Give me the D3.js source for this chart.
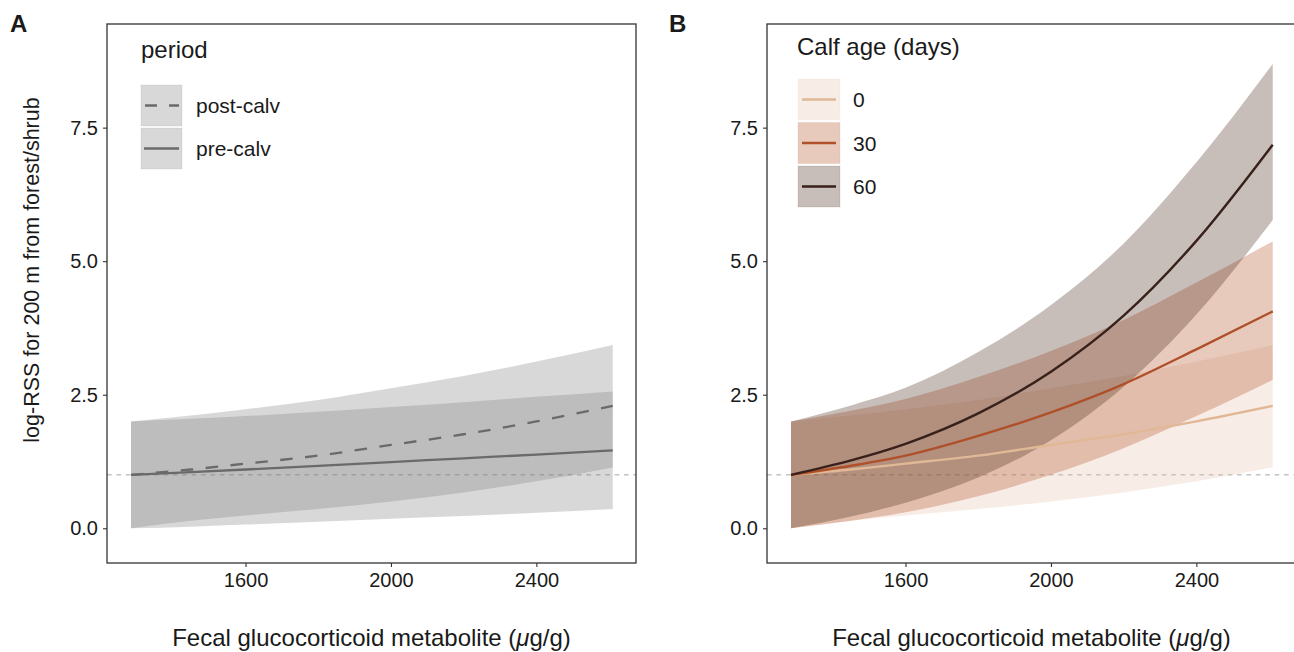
<!DOCTYPE html>
<html>
<head>
<meta charset="utf-8">
<script src="https://cdn.jsdelivr.net/npm/d3@7"></script>
<style>
  body { margin: 0; background: #fff; }
  svg text { font-family: "Liberation Sans", Arial, Helvetica, sans-serif; fill: #1a1a1a; }
</style>
</head>
<body>
<div id="chart"></div>
<script>
var gcX = [1285, 1450, 1600, 1800, 2000, 2200, 2400, 2610];

// panel A: period
var preFit  = [1, 1.05, 1.10, 1.17, 1.24, 1.31, 1.38, 1.46];
var preLo   = [0, 0.03, 0.07, 0.12, 0.18, 0.23, 0.29, 0.36];
var preHi   = [2, 2.05, 2.10, 2.18, 2.27, 2.36, 2.46, 2.56];
var postFit = [1, 1.10, 1.21, 1.36, 1.56, 1.76, 2.00, 2.29];
var postLo  = [0, 0.14, 0.24, 0.36, 0.50, 0.67, 0.88, 1.14];
var postHi  = [2, 2.11, 2.23, 2.40, 2.62, 2.85, 3.12, 3.43];

// panel B: calf age (days)
var age0Fit  = [1, 1.10, 1.21, 1.36, 1.56, 1.76, 2.00, 2.29];
var age0Lo   = [0, 0.14, 0.24, 0.36, 0.50, 0.67, 0.88, 1.14];
var age0Hi   = [2, 2.11, 2.23, 2.40, 2.62, 2.85, 3.12, 3.43];
var age30Fit = [1, 1.17, 1.36, 1.73, 2.17, 2.70, 3.35, 4.06];
var age30Lo  = [0, 0.14, 0.30, 0.60, 1.00, 1.50, 2.10, 2.78];
var age30Hi  = [2, 2.20, 2.42, 2.83, 3.32, 3.90, 4.60, 5.37];
var age60Fit = [1, 1.27, 1.58, 2.15, 2.93, 3.98, 5.38, 7.18];
var age60Lo  = [0, 0.22, 0.48, 0.95, 1.65, 2.65, 4.00, 5.77];
var age60Hi  = [2, 2.30, 2.63, 3.30, 4.18, 5.33, 6.85, 8.69];

var xTicks = [1600, 2000, 2400];
var yTicks = [0, 2.5, 5, 7.5];
var refLine = 1;

var W = 1294, H = 652;
var panelW = 529, panelTop = 24, panelBottom = 563;

var svg = d3.select("#chart").append("svg")
  .attr("width", W).attr("height", H);

function rows(fit, lo, hi) {
  return gcX.map(function(x, i) { return {x: x, fit: fit[i], lo: lo[i], hi: hi[i]}; });
}

var periodSeries = [
  {name: "post-calv", data: rows(postFit, postLo, postHi), dash: "12.5,12.5"},
  {name: "pre-calv",  data: rows(preFit, preLo, preHi), dash: null}
];

var ageSeries = [
  {name: "0",  data: rows(age0Fit, age0Lo, age0Hi),    line: "#e0b896", fill: "#e8c3ac"},
  {name: "30", data: rows(age30Fit, age30Lo, age30Hi), line: "#b0502a", fill: "#b24e23"},
  {name: "60", data: rows(age60Fit, age60Lo, age60Hi), line: "#38211a", fill: "#452616"}
];

function makePanel(left, tag) {
  var x = d3.scaleLinear().domain([1219, 2674]).range([left, left + panelW]);
  var y = d3.scaleLinear().domain([-0.65, 9.44]).range([panelBottom, panelTop]);
  var g = svg.append("g");

  var xa = g.append("g").attr("transform", "translate(0," + panelBottom + ")")
    .call(d3.axisBottom(x).tickValues(xTicks).tickSize(4).tickPadding(6).tickFormat(d3.format("d")));
  var ya = g.append("g").attr("transform", "translate(" + left + ",0)")
    .call(d3.axisLeft(y).tickValues(yTicks).tickSize(4).tickPadding(5).tickFormat(d3.format(".1f")));
  [xa, ya].forEach(function(a) {
    a.select(".domain").remove();
    a.selectAll("line").attr("stroke", "#333").attr("stroke-width", 1.1);
    a.selectAll("text").style("font-size", "20px").attr("fill", "#1a1a1a");
  });

  g.append("text")
    .attr("x", left + panelW / 2).attr("y", 646)
    .attr("text-anchor", "middle").style("font-size", "24px")
    .html('Fecal glucocorticoid metabolite (<tspan font-style="italic">&#956;</tspan>g/g)');

  g.append("text")
    .attr("x", tag == "A" ? 10 : 669).attr("y", 32)
    .style("font-size", "24px").style("font-weight", "bold").text(tag);

  return {g: g, x: x, y: y, left: left};
}

function frame(p) {
  p.g.append("line")
    .attr("x1", p.left).attr("x2", p.left + panelW)
    .attr("y1", p.y(refLine)).attr("y2", p.y(refLine))
    .attr("stroke", "#a6a6a6").attr("stroke-width", 1).attr("stroke-dasharray", "4.7,4.7");
  p.g.append("rect")
    .attr("x", p.left).attr("y", panelTop).attr("width", panelW).attr("height", panelBottom - panelTop)
    .attr("fill", "none").attr("stroke", "#333").attr("stroke-width", 1.3);
}

// ---- panel A
var pA = makePanel(107, "A");
var areaA = d3.area().curve(d3.curveMonotoneX)
  .x(function(d) { return pA.x(d.x); })
  .y0(function(d) { return pA.y(d.lo); })
  .y1(function(d) { return pA.y(d.hi); });
var lineA = d3.line().curve(d3.curveMonotoneX)
  .x(function(d) { return pA.x(d.x); })
  .y(function(d) { return pA.y(d.fit); });

frame(pA);
periodSeries.forEach(function(s) {
  pA.g.insert("path", "rect").attr("d", areaA(s.data))
    .attr("fill", "#7f7f7f").attr("fill-opacity", 0.3);
});
periodSeries.forEach(function(s) {
  pA.g.insert("path", "rect").attr("d", lineA(s.data))
    .attr("fill", "none").attr("stroke", "#6a6a6a").attr("stroke-width", 2.3)
    .attr("stroke-dasharray", s.dash);
});

// legend A
var legA = svg.append("g");
legA.append("text").attr("x", 141).attr("y", 58).style("font-size", "24px").text("period");
periodSeries.forEach(function(s, i) {
  var ky = 85 + i * 43;
  legA.append("rect").attr("x", 141).attr("y", ky).attr("width", 41).attr("height", 41)
    .attr("fill", "#7f7f7f").attr("fill-opacity", 0.3)
    .attr("stroke", "#7f7f7f").attr("stroke-opacity", 0.12);
  legA.append("line").attr("x1", 144).attr("x2", 179).attr("y1", ky + 20.5).attr("y2", ky + 20.5)
    .attr("stroke", "#6a6a6a").attr("stroke-width", 2.3)
    .attr("stroke-dasharray", s.dash ? "12,12" : null).attr("stroke-dashoffset", s.dash ? -1 : null);
  legA.append("text").attr("x", 196).attr("y", ky + 28).style("font-size", "21px").text(s.name);
});

// ---- panel B
var pB = makePanel(767, "B");
var areaB = d3.area().curve(d3.curveMonotoneX)
  .x(function(d) { return pB.x(d.x); })
  .y0(function(d) { return pB.y(d.lo); })
  .y1(function(d) { return pB.y(d.hi); });
var lineB = d3.line().curve(d3.curveMonotoneX)
  .x(function(d) { return pB.x(d.x); })
  .y(function(d) { return pB.y(d.fit); });

frame(pB);
ageSeries.forEach(function(s) {
  pB.g.insert("path", "rect").attr("d", areaB(s.data))
    .attr("fill", s.fill).attr("fill-opacity", 0.3);
});
ageSeries.forEach(function(s) {
  pB.g.insert("path", "rect").attr("d", lineB(s.data))
    .attr("fill", "none").attr("stroke", s.line).attr("stroke-width", 2.4);
});

// legend B
var legB = svg.append("g");
legB.append("text").attr("x", 797).attr("y", 55).style("font-size", "24px").text("Calf age (days)");
ageSeries.forEach(function(s, i) {
  var ky = 79 + i * 43.5;
  legB.append("rect").attr("x", 798).attr("y", ky).attr("width", 42).attr("height", 41)
    .attr("fill", s.fill).attr("fill-opacity", 0.3)
    .attr("stroke", s.fill).attr("stroke-opacity", 0.1);
  legB.append("line").attr("x1", 802).attr("x2", 836).attr("y1", ky + 20.5).attr("y2", ky + 20.5)
    .attr("stroke", s.line).attr("stroke-width", 2.4);
  legB.append("text").attr("x", 853).attr("y", ky + 28).style("font-size", "21px").text(s.name);
});

// y title (shared, left of panel A)
svg.append("text")
  .attr("transform", "translate(38.5,270) rotate(-90)")
  .attr("text-anchor", "middle").style("font-size", "21.5px")
  .text("log-RSS for 200 m from forest/shrub");
</script>
</body>
</html>
